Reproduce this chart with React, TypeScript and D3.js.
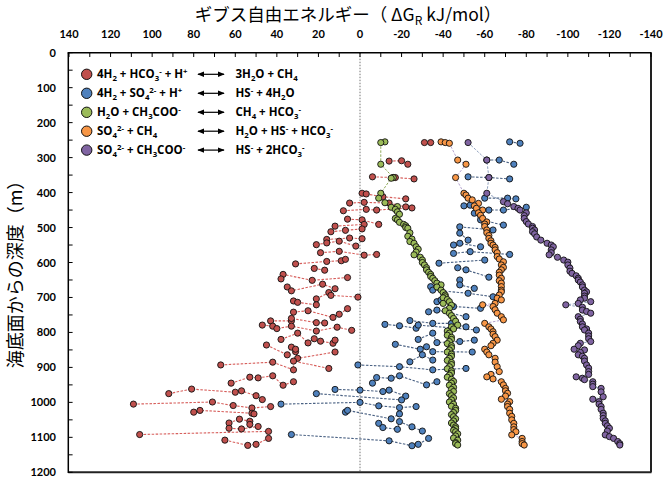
import React from "react";
import * as d3 from "d3";

type Pt = [number, number]; // [depth m, ΔG kJ/mol]

const xTickValues = [140, 120, 100, 80, 60, 40, 20, 0, -20, -40, -60, -80, -100, -120, -140];
const yTickValues = [0, 100, 200, 300, 400, 500, 600, 700, 800, 900, 1000, 1100, 1200];

const redGroups: Pt[][] = [
  [[257, -31], [257, -34]],
  [[310, -14], [309, -20], [319, -23]],
  [[355, -6], [357, -16], [357, -17], [361, -26]],
  [[402, -1], [404, -3], [412, -11], [418, -22]],
  [[430, 5], [428, -2], [430, -14], [441, -22]],
  [[452, 8], [448, -3], [450, -8], [444, -25]],
  [[476, 6], [478, -1], [491, -9]],
  [[496, 12], [491, -2]],
  [[512, 14], [508, 7], [504, -1]],
  [[534, 16], [530, 5], [532, -1]],
  [[549, 21], [544, 16], [539, 10], [553, 2]],
  [[572, 19], [568, 10], [579, -2], [577, -8]],
  [[604, 31], [597, 16], [595, 9], [591, 7]],
  [[617, 22], [622, 17]],
  [[634, 37], [647, 38], [651, 23], [643, 6]],
  [[670, 35], [681, 33], [662, 18], [675, 12]],
  [[704, 21], [686, 15], [694, 14], [699, 1]],
  [[710, 32], [714, 30], [721, 21]],
  [[742, 32], [738, 25], [757, 13], [748, 10], [732, 6]],
  [[767, 43], [767, 33], [760, 33], [772, 21], [773, 17]],
  [[779, 47], [782, 42], [789, 40], [782, 33], [796, 21], [785, 11], [794, 4]],
  [[820, 38], [802, 30], [830, 25], [818, 22], [825, 19], [831, 13], [822, 12]],
  [[836, 45], [864, 35], [842, 33], [855, 31], [848, 31], [874, 30], [856, 12]],
  [[893, 67], [885, 42], [907, 32], [882, 32], [903, 15]],
  [[945, 62], [928, 53], [930, 49], [924, 42], [951, 37], [941, 32]],
  [[975, 92], [962, 81], [971, 60], [967, 57], [981, 50], [992, 47]],
  [[1005, 109], [999, 71], [1009, 61], [1016, 52], [1012, 43]],
  [[1028, 80], [1023, 77], [1031, 52], [1033, 51]],
  [[1059, 63], [1048, 58], [1054, 53], [1063, 53]],
  [[1074, 63], [1076, 57], [1069, 49]],
  [[1092, 106], [1083, 44]],
  [[1108, 65], [1123, 54], [1120, 50], [1103, 44]],
];

const blueGroups: Pt[][] = [
  [[255, -72], [259, -77]],
  [[307, -61], [307, -67], [319, -74]],
  [[355, -52], [357, -62], [361, -72]],
  [[416, -60], [416, -71], [418, -75]],
  [[438, -50], [436, -53], [450, -62], [450, -69], [442, -80]],
  [[459, -55], [478, -58], [493, -69]],
  [[498, -48], [507, -64]],
  [[516, -48], [536, -52]],
  [[550, -45], [545, -48], [555, -58]],
  [[574, -45], [569, -53], [577, -72]],
  [[602, -38], [593, -60]],
  [[615, -47], [621, -51], [642, -62]],
  [[650, -48], [664, -48], [674, -55]],
  [[669, -34], [679, -35], [688, -52], [698, -64]],
  [[712, -37], [707, -39], [726, -45], [731, -58]],
  [[741, -33], [736, -37], [755, -51]],
  [[766, -24], [774, -35], [774, -44], [784, -51]],
  [[777, -12], [781, -19], [788, -27], [779, -28], [793, -56]],
  [[802, -35], [820, -28], [829, -37], [826, -48], [822, -55]],
  [[834, -17], [848, -29], [841, -32], [855, -35], [856, -54]],
  [[884, -24], [864, -30], [879, -35]],
  [[893, 1], [898, -19], [907, -35], [903, -51]],
  [[945, -6], [929, -8], [931, -15], [924, -19], [950, -32], [941, -37]],
  [[963, 12], [965, 0], [969, -11], [965, -14], [982, -22]],
  [[975, 21], [993, -20]],
  [[1005, 38], [1000, 0], [1010, -9], [1015, -19], [1012, -27]],
  [[1028, 7], [1023, 6], [1047, -15], [1033, -19]],
  [[1060, -9], [1072, -11], [1077, -18], [1055, -19], [1070, -25], [1082, -30]],
  [[1092, 33], [1110, -14], [1124, -25], [1120, -28], [1103, -33]],
];

const greenPoints: Pt[] = [
  [255, -12], [257, -10], [319, -10], [357, -16], [359, -15], [402, -10], [416, -9], [429, -12],
  [440, -18], [442, -15], [448, -17], [455, -18], [462, -19], [474, -17], [478, -18], [485, -19],
  [491, -21], [495, -22], [500, -22], [502, -23], [515, -24], [525, -23], [533, -25], [540, -24],
  [545, -26], [555, -27], [562, -28], [570, -27], [578, -26], [585, -29], [593, -30], [600, -30],
  [607, -31], [615, -32], [621, -32], [628, -33], [634, -34], [640, -34], [645, -35], [652, -36],
  [659, -37], [664, -39], [670, -37], [679, -39], [686, -40], [693, -41], [698, -41], [701, -40],
  [706, -42], [712, -43], [717, -40], [722, -44], [731, -43], [738, -41], [745, -43], [752, -44],
  [760, -45], [768, -46], [779, -47], [784, -44], [790, -45], [796, -42], [802, -43], [808, -42],
  [814, -44], [820, -44], [826, -43], [832, -42], [838, -44], [844, -44], [850, -43], [856, -42],
  [862, -44], [868, -44], [874, -43], [880, -42], [886, -44], [892, -44], [898, -43], [904, -42],
  [910, -44], [916, -44], [922, -43], [928, -42], [934, -44], [940, -45], [945, -44], [951, -43],
  [957, -45], [963, -44], [969, -45], [975, -43], [981, -44], [987, -45], [993, -44], [999, -43],
  [1005, -45], [1011, -44], [1017, -46], [1023, -46], [1029, -45], [1035, -44], [1041, -45],
  [1047, -46], [1053, -45], [1059, -44], [1065, -45], [1070, -46], [1075, -46], [1080, -45],
  [1084, -46], [1090, -47], [1096, -46], [1102, -45], [1108, -47], [1115, -46], [1118, -46],
  [1122, -47],
];

const orangePoints: Pt[] = [
  [255, -39], [257, -41], [259, -43], [307, -47], [319, -51], [357, -46], [402, -50], [407, -51],
  [416, -52], [421, -54], [431, -57], [438, -55], [445, -56], [450, -59], [458, -57], [465, -58],
  [474, -59], [484, -61], [490, -60], [497, -60], [507, -61], [515, -61], [523, -62], [531, -62],
  [538, -63], [545, -63], [550, -64], [557, -65], [564, -65], [572, -66], [583, -66], [590, -67],
  [598, -69], [607, -68], [614, -69], [621, -68], [628, -67], [636, -67], [645, -68], [652, -67],
  [659, -68], [669, -68], [679, -68], [684, -68], [693, -67], [702, -66], [707, -68], [717, -65],
  [721, -59], [726, -64], [735, -65], [745, -66], [755, -68], [764, -69], [774, -60], [784, -62],
  [790, -63], [798, -64], [805, -64], [812, -65], [822, -66], [831, -64], [838, -63], [848, -60],
  [856, -61], [864, -62], [874, -65], [885, -65], [898, -66], [912, -67], [920, -63], [927, -61],
  [933, -64], [941, -68], [950, -69], [960, -70], [967, -70], [974, -71], [982, -70], [991, -68],
  [998, -72], [1005, -71], [1012, -71], [1020, -72], [1031, -72], [1040, -73], [1050, -73],
  [1060, -74], [1070, -74], [1078, -74], [1084, -75], [1093, -73], [1103, -78], [1112, -78],
  [1118, -78], [1122, -79],
];

const purplePoints: Pt[] = [
  [257, -52], [307, -61], [357, -62], [402, -61], [426, -69], [432, -71], [440, -74], [445, -76],
  [450, -77], [458, -80], [466, -79], [474, -79], [483, -80], [490, -81], [497, -83], [502, -83],
  [507, -84], [512, -83], [518, -84], [527, -85], [536, -87], [545, -90], [550, -92], [555, -93],
  [564, -92], [572, -92], [578, -91], [585, -95], [593, -98], [599, -100], [607, -100], [616, -101],
  [625, -101], [631, -102], [638, -104], [645, -105], [650, -105], [656, -106], [664, -107],
  [670, -107], [679, -108], [684, -109], [688, -108], [696, -108], [702, -108], [707, -106],
  [712, -111], [717, -105], [721, -99], [728, -107], [736, -107], [740, -109], [745, -111],
  [755, -105], [762, -106], [769, -106], [776, -107], [784, -107], [790, -109], [793, -108],
  [802, -110], [810, -110], [818, -110], [826, -111], [831, -106], [838, -105], [848, -103],
  [850, -108], [857, -106], [864, -105], [868, -107], [874, -108], [882, -108], [893, -109],
  [902, -110], [912, -110], [920, -110], [927, -104], [931, -107], [935, -108], [941, -112],
  [948, -112], [955, -112], [960, -116], [970, -116], [984, -117], [991, -112], [998, -115],
  [1005, -115], [1012, -116], [1020, -116], [1031, -117], [1038, -117], [1046, -117], [1053, -118],
  [1060, -118], [1067, -119], [1074, -120], [1082, -119], [1093, -118], [1098, -120], [1103, -122],
  [1112, -124], [1118, -125], [1122, -125],
];

const legendLeft = [
  "4H_2 + HCO_3^- + H^+",
  "4H_2 + SO_4^2- + H^+",
  "H_2O + CH_3COO^-",
  "SO_4^2- + CH_4",
  "SO_4^2- + CH_3COO^-",
];
const legendRight = [
  "3H_2O + CH_4",
  "HS^- + 4H_2O",
  "CH_4 + HCO_3^-",
  "H_2O + HS^- + HCO_3^-",
  "HS^- + 2HCO_3^-",
];

const colors = {
  red: { fill: "#c0504d", line: "#d0433f" },
  blue: { fill: "#4f81bd", line: "#2b466f" },
  green: { fill: "#9bbb59", line: "#7d9b3d" },
  orange: { fill: "#f79646", line: "#a996c8" },
  purple: { fill: "#8064a2", line: "#7b8fb3" },
};
const legendFills = [colors.red.fill, colors.blue.fill, colors.green.fill, colors.orange.fill, colors.purple.fill];

function chem(s: string, keyBase: string, fs: number) {
  const parts: { t: string; k: number }[] = [];
  let i = 0;
  let buf = "";
  const flush = () => {
    if (buf) parts.push({ t: buf, k: 0 });
    buf = "";
  };
  while (i < s.length) {
    const c = s[i];
    if (c === "_") {
      flush();
      let j = i + 1;
      let r = "";
      while (j < s.length && /[0-9]/.test(s[j])) r += s[j++];
      parts.push({ t: r, k: 1 });
      i = j;
    } else if (c === "^") {
      flush();
      let j = i + 1;
      let r = "";
      while (j < s.length && /[0-9+\-]/.test(s[j])) r += s[j++];
      parts.push({ t: r, k: -1 });
      i = j;
    } else {
      buf += c;
      i++;
    }
  }
  flush();
  let cur = 0;
  return parts.map((p, idx) => {
    const target = p.k === 1 ? 3 : p.k === -1 ? -4.5 : 0;
    const dy = target - cur;
    cur = target;
    return (
      <tspan key={keyBase + idx} dy={dy} fontSize={p.k === 0 ? fs : fs * 0.68}>
        {p.t}
      </tspan>
    );
  });
}

export default function App() {
  const W = 665;
  const H = 480;
  const x = d3.scaleLinear().domain([140, -140]).range([69, 651]);
  const y = d3.scaleLinear().domain([0, 1200]).range([52.7, 472.3]);
  const line = d3
    .line<Pt>()
    .x((d) => x(d[1]))
    .y((d) => y(d[0]));

  const minorX = d3.range(140, -141, -10);
  const minorY = d3.range(0, 1201, 50);

  const groupPaths = (groups: Pt[][], stroke: string, key: string) =>
    groups.map((g, i) => {
      const s = [...g].sort((a, b) => b[1] - a[1]);
      return (
        <path
          key={key + i}
          d={line(s) || ""}
          fill="none"
          stroke={stroke}
          strokeWidth={1.1}
          strokeDasharray="2.5,1.5"
          opacity={0.85}
        />
      );
    });
  const chainPath = (pts: Pt[], stroke: string) => {
    const s = [...pts].sort((a, b) => a[0] - b[0]);
    return <path d={line(s) || ""} fill="none" stroke={stroke} strokeWidth={1} strokeDasharray="2.5,1.5" opacity={0.85} />;
  };
  const dots = (pts: Pt[], fill: string, key: string) =>
    pts.map((d, i) => (
      <circle key={key + i} cx={x(d[1])} cy={y(d[0])} r={3.1} fill={fill} stroke="#111" strokeWidth={0.9} />
    ));

  const font = "Lato, 'Open Sans', 'Liberation Sans', sans-serif";
  const legendFont = "'Open Sans', Lato, sans-serif";
  const legendY = [74.3, 93.3, 112.3, 131.2, 150.1];

  return (
    <svg width={W} height={H} style={{ position: "absolute", left: 0, top: 0, background: "#fff" }}>
      <rect x={0} y={0} width={W} height={H} fill="#fff" />
      {/* zero line */}
      <line x1={x(0)} x2={x(0)} y1={y(0)} y2={y(1200)} stroke="#777" strokeWidth={1} strokeDasharray="1.5,1.5" />

      {/* series */}
      <g>
        {groupPaths(redGroups, colors.red.line, "rl")}
        {dots(redGroups.flat(), colors.red.fill, "rd")}
      </g>
      <g>
        {groupPaths(blueGroups, colors.blue.line, "bl")}
        {dots(blueGroups.flat(), colors.blue.fill, "bd")}
      </g>
      <g>
        {chainPath(greenPoints, colors.green.line)}
        {dots(greenPoints, colors.green.fill, "gd")}
      </g>
      <g>
        {chainPath(orangePoints, colors.orange.line)}
        {dots(orangePoints, colors.orange.fill, "od")}
      </g>
      <g>
        {chainPath(purplePoints, colors.purple.line)}
        {dots(purplePoints, colors.purple.fill, "pd")}
      </g>

      {/* frame */}
      <line x1={651} x2={651} y1={52.7} y2={472.3} stroke="#222" strokeWidth={2} />
      <line x1={68.3} x2={651.5} y1={472.3} y2={472.3} stroke="#222" strokeWidth={2} />
      <line x1={68.3} x2={68.3} y1={52.7} y2={473} stroke="#000" strokeWidth={1.5} />
      <line x1={67.6} x2={651.5} y1={52.7} y2={52.7} stroke="#000" strokeWidth={1.5} />

      {/* ticks */}
      {minorX.map((v) => (
        <line key={"tx" + v} x1={x(v)} x2={x(v)} y1={52.7} y2={57} stroke="#000" strokeWidth={1} />
      ))}
      {minorY.map((v) => (
        <line key={"ty" + v} x1={68.3} x2={72.6} y1={y(v)} y2={y(v)} stroke="#000" strokeWidth={1} />
      ))}
      {xTickValues.map((v) => (
        <text key={"xl" + v} x={x(v)} y={38} textAnchor="middle" fontFamily={font} fontWeight="bold" fontSize={11} fill="#000">
          {v}
        </text>
      ))}
      {yTickValues.map((v) => (
        <text key={"yl" + v} x={56} y={y(v) + 4} textAnchor="end" fontFamily={font} fontWeight="bold" fontSize={11} fill="#000">
          {v}
        </text>
      ))}

      {/* titles */}
      <text x={348} y={21} textAnchor="middle" fontFamily="'Noto Sans CJK JP', sans-serif" fontSize={17.5} fill="#000">
        ギブス自由エネルギー（ Δ<tspan>G</tspan>
        <tspan dy={3.5} fontSize={12}>R</tspan>
        <tspan dy={-3.5}> kJ/mol）</tspan>
      </text>
      <text
        transform="translate(22,270) rotate(-90)"
        textAnchor="middle"
        fontFamily="'Noto Sans CJK JP', sans-serif"
        fontSize={18}
        fill="#000"
      >
        海底面からの深度（m）
      </text>

      {/* legend */}
      <defs>
        <marker id="ah" viewBox="0 0 10 10" refX={9} refY={5} markerWidth={6} markerHeight={6} orient="auto-start-reverse">
          <path d="M0,1 L10,5 L0,9 z" fill="#000" />
        </marker>
      </defs>
      {legendY.map((ly, i) => (
        <g key={"lg" + i}>
          <circle cx={86.7} cy={ly} r={5.2} fill={legendFills[i]} stroke="#111" strokeWidth={1} />
          <text x={97} y={ly + 4} fontFamily={legendFont} fontWeight="bold" fontSize={11.5} fill="#000">
            {chem(legendLeft[i], "l" + i, 11.5)}
          </text>
          <line x1={198} x2={224} y1={ly} y2={ly} stroke="#000" strokeWidth={1.2} markerStart="url(#ah)" markerEnd="url(#ah)" />
          <text x={235.5} y={ly + 4} fontFamily={legendFont} fontWeight="bold" fontSize={11.5} fill="#000">
            {chem(legendRight[i], "r" + i, 11.5)}
          </text>
        </g>
      ))}
    </svg>
  );
}
